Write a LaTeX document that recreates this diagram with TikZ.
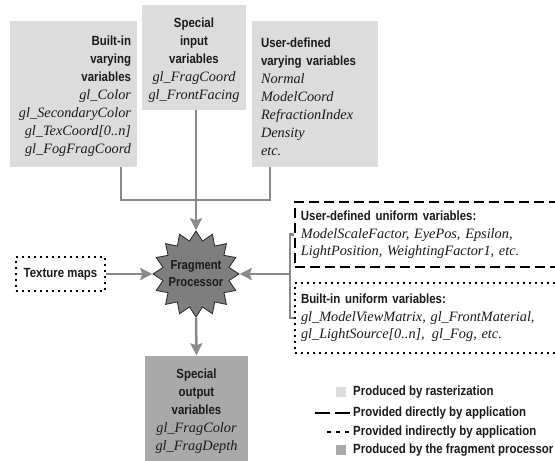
\documentclass[tikz,border=0pt]{standalone}
\usepackage{fontspec}
\setmainfont{Liberation Serif}
\newfontfamily\hdfam[FakeStretch=0.86]{Liberation Sans}
\usetikzlibrary{shapes.geometric,arrows.meta}
\newcommand\hb{\hdfam\bfseries\upshape\fontsize{13.3}{18}\selectfont}
\newcommand\iv{\rmfamily\mdseries\itshape\fontsize{14.3}{18}\selectfont}
\definecolor{lightbox}{HTML}{DCDCDC}
\definecolor{darkbox}{HTML}{A9A9A9}
\definecolor{connc}{HTML}{8A8A8A}
\definecolor{starc}{HTML}{7E7E7E}
\definecolor{txt}{HTML}{1A1A1A}
\tikzset{
  vbox/.style={rectangle, fill=lightbox, inner xsep=6pt, inner ysep=0pt, text=txt, text height=15pt, font=\fontsize{14.3}{18}\selectfont},
  conn/.style={draw=connc, line width=2.5pt},
  arr/.style={conn, -{Stealth[length=12pt,width=12pt,inset=2pt]}},
  dashbox/.style={rectangle, draw=black, line width=1.8pt, dash pattern=on 10pt off 5pt, inner xsep=6pt, inner ysep=0pt, text=txt, align=left},
  dotbox/.style={rectangle, draw=black, line width=2pt, dash pattern=on 2pt off 4pt, inner xsep=6pt, inner ysep=0pt, text=txt, align=left},
  legtext/.style={anchor=west, inner sep=3pt, text=txt, font=\hb},
}
\begin{document}
\begin{tikzpicture}[x=1pt,y=-1pt]
\clip (0,0) rectangle (555,461);
\fill[white] (0,0) rectangle (555,461);
% top boxes
\node[vbox, minimum width=127pt, minimum height=146pt, text width=115pt, align=right] (bv) at (73.5,94)
 {\hb Built-in\\ varying\\ variables\\ \iv gl\_Color\\ gl\_SecondaryColor\\ gl\_TexCoord[0..n]\\ gl\_FogFragCoord};
\node[vbox, minimum width=104pt, minimum height=105pt, text width=92pt, align=center] (si) at (194,57.5)
 {\hb Special\\ input\\ variables\\ \iv gl\_FragCoord\\ gl\_FrontFacing};
\node[vbox, inner xsep=9pt, minimum width=126pt, minimum height=146pt, text width=108pt, align=left] (uv) at (315,94)
 {\hb User-defined\\ varying variables\\ \iv Normal\\ ModelCoord\\ RefractionIndex\\ Density\\ etc.};
% star
\node[star, star points=16, star point ratio=1.28, minimum size=86pt, inner sep=0pt, fill=starc, draw=black!85, line width=0.8pt] (fp) at (196,274) {};
\node[align=center, text=txt, font=\hdfam\bfseries\fontsize{13}{17}\selectfont, inner sep=0pt] (fpt) at (196,274) {Fragment\\Processor};
% output box
\node[vbox, fill=darkbox, inner xsep=4pt, minimum width=103pt, minimum height=106pt, text width=95pt, align=center] (ov) at (196.5,408.5)
 {\hb Special\\ output\\ variables\\ \iv gl\_FragColor\\ gl\_FragDepth};
% texture maps
\node[dotbox, minimum width=89pt, minimum height=34pt, align=center, font=\hb] (tm) at (60.5,274) {Texture maps};
% uniform boxes
\node[dashbox, anchor=west, minimum height=65pt, text width=290pt, font=\fontsize{14.3}{17}\selectfont] (uu) at (294,234.5)
 {\hb User-defined uniform variables:\\ \iv ModelScaleFactor, EyePos, Epsilon,\\ LightPosition, WeightingFactor1, etc.};
\node[dotbox, anchor=west, minimum height=70pt, text width=290pt, font=\fontsize{14.3}{17}\selectfont] (bu) at (294,318)
 {\hb Built-in uniform variables:\\ \iv gl\_ModelViewMatrix, gl\_FrontMaterial,\\ gl\_LightSource[0..n],\, gl\_Fog, etc.};
% connectors
\draw[conn] ([xshift=47.5pt]bv.south) -- ++(0,33) -| ([xshift=-45pt]uv.south);
\draw[arr] (si.south -| fp.north) -- (fp.north);
\draw[arr] (tm.east) -- (fp.west);
\draw[conn] (uu.west) -- ++(-4,0) |- (bu.west);
\coordinate (bk) at ([xshift=-4pt]uu.west |- fp.east);
\draw[arr] (bk) -- (fp.east);
\draw[arr] (fp.south) -- (ov.north);
% legend
\node[legtext] (l1) at (350,392) {Produced by rasterization};
\node[legtext] (l2) at (350,413) {Provided directly by application};
\node[legtext] (l3) at (350,432) {Provided indirectly by application};
\node[legtext] (l4) at (350,450) {Produced by the fragment processor};
\node[rectangle, fill=lightbox, minimum size=10pt, inner sep=0pt] (sw1) at (341,392) {};
\node[rectangle, fill=darkbox, minimum size=10pt, inner sep=0pt] (sw4) at (341,450) {};
\coordinate (d2) at (315,413);
\coordinate (d3) at (327,432);
\draw[black, line width=1.8pt, dash pattern=on 15pt off 5pt] (d2) -- (l2.west);
\draw[black, line width=1.3pt, dash pattern=on 4pt off 5pt] (d3) -- (l3.west);
\end{tikzpicture}
\end{document}
